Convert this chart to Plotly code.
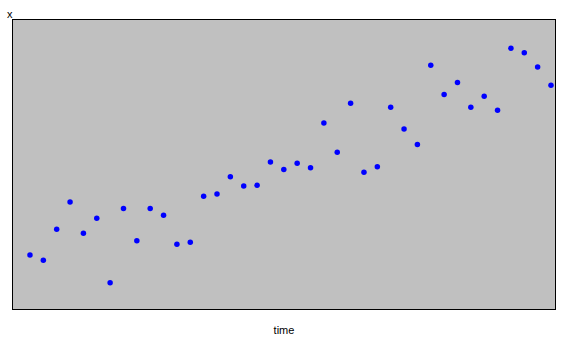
import plotly.graph_objects as go

time = list(range(1, 41))
x_values = [1.87, 1.69, 2.76, 3.70, 2.62, 3.14, 0.91, 3.48, 2.36, 3.48,
            3.24, 2.24, 2.31, 3.90, 3.98, 4.58, 4.26, 4.28, 5.09, 4.83,
            5.04, 4.89, 6.44, 5.42, 7.12, 4.73, 4.92, 6.98, 6.23, 5.69,
            8.43, 7.42, 7.84, 6.98, 7.36, 6.88, 9.02, 8.87, 8.37, 7.74]

fig = go.Figure()
fig.add_trace(go.Scatter(
    x=time, y=x_values, mode="markers",
    marker=dict(color="#0000FF", size=5.5, symbol="circle", line=dict(width=0)),
    hoverinfo="skip", showlegend=False,
))

fig.update_layout(
    width=563, height=350,
    margin=dict(l=13, r=8, t=20, b=41),
    paper_bgcolor="white",
    plot_bgcolor="#C0C0C0",
    font=dict(family="Liberation Sans, Arial, sans-serif", size=11, color="black"),
    showlegend=False,
    xaxis=dict(range=[-0.27, 40.3], showgrid=False, zeroline=False,
               showticklabels=False, ticks="", showline=True, linecolor="black",
               linewidth=1, mirror=True,
               title=dict(text="time", font=dict(size=11), standoff=17)),
    yaxis=dict(range=[0, 10], showgrid=False, zeroline=False,
               showticklabels=False, ticks="", showline=True, linecolor="black",
               linewidth=1, mirror=True),
    annotations=[dict(text="x", x=-3.5 / 542, y=1 + 6 / 289,
                      xref="paper", yref="paper", showarrow=False,
                      font=dict(size=11), xanchor="center", yanchor="middle")],
)

fig.write_html("out.html")
